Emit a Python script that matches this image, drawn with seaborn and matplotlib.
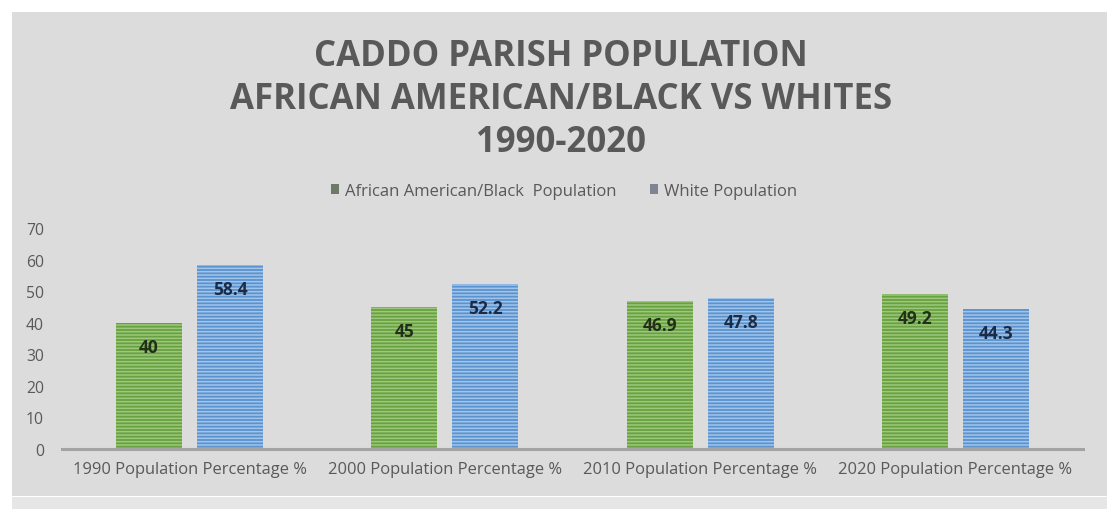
import matplotlib
matplotlib.use("Agg")
import matplotlib.pyplot as plt
from matplotlib.patches import Rectangle, Patch
import pandas as pd
import seaborn as sns

# ---- data -------------------------------------------------------------
categories = [
    "1990 Population Percentage %",
    "2000 Population Percentage %",
    "2010 Population Percentage %",
    "2020 Population Percentage %",
]
series_names = ["African American/Black  Population", "White Population"]
black_pct = [40, 45, 46.9, 49.2]
white_pct = [58.4, 52.2, 47.8, 44.3]
y_ticks = [0, 10, 20, 30, 40, 50, 60, 70]

title_lines = [
    "CADDO PARISH POPULATION",
    "AFRICAN AMERICAN/BLACK VS WHITES",
    "1990-2020",
]

df = pd.DataFrame({
    "category": categories * 2,
    "group": [series_names[0]] * len(categories) + [series_names[1]] * len(categories),
    "pct": black_pct + white_pct,
})

# ---- style ------------------------------------------------------------
sns.set_theme(style="white")
plt.rcParams["font.family"] = ["Open Sans", "DejaVu Sans"]
plt.rcParams["hatch.linewidth"] = 1.1

GREEN = "#68a240"
GREEN_STRIPE = "#9cc77c"
BLUE = "#5a93cf"
BLUE_STRIPE = "#a3c4ea"
TEXT = "#595959"
PANEL = "#dcdcdc"

W, H = 1107, 510
fig = plt.figure(figsize=(W / 100, H / 100), dpi=100, facecolor="white")

# chart panel behind everything
fig.patches.append(Rectangle((12 / W, 1 - 497 / H), 1 - 12 / W, (497 - 13) / H,
                             transform=fig.transFigure, facecolor=PANEL,
                             edgecolor="none", zorder=-10))
fig.patches.append(Rectangle((12 / W, 0), 1 - 12 / W, 1 - 498 / H,
                             transform=fig.transFigure, facecolor="#e6e6e6",
                             edgecolor="none", zorder=-10))

ax = fig.add_axes([62 / W, 1 - 450 / H, 1021 / W, (450 - 229) / H])
ax.set_facecolor("none")

sns.barplot(data=df, x="category", y="pct", hue="group", hue_order=series_names,
            palette=[GREEN, BLUE], width=0.635, gap=0.185, legend=False,
            saturation=1, ax=ax)

stripes = [GREEN_STRIPE, BLUE_STRIPE]
label_colors = ["#22301a", "#1c2b45"]
for cont, sc, lc in zip(ax.containers, stripes, label_colors):
    for bar in cont:
        bar.set_hatch("-----")
        bar.set_edgecolor(sc)
        bar.set_linewidth(0)
        h = bar.get_height()
        ax.annotate(f"{h:g}", xy=(bar.get_x() + bar.get_width() / 2, h),
                    xytext=(0, -24), textcoords="offset pixels",
                    ha="center", va="center", fontsize=12.5, fontweight="bold",
                    color=lc)

ax.set_ylim(0, 70)
ax.set_xlim(-0.5, 3.5)
ax.set_yticks(y_ticks)
ax.set_xlabel("")
ax.set_ylabel("")
ax.tick_params(axis="y", length=0, pad=13, labelsize=11.3, labelcolor=TEXT)
ax.tick_params(axis="x", length=0, pad=9, labelsize=11.9, labelcolor=TEXT)
for side in ["top", "right", "left"]:
    ax.spines[side].set_visible(False)
ax.spines["bottom"].set_color("#a3a3a3")
ax.spines["bottom"].set_linewidth(2.2)

# title
for line, ypx in zip(title_lines, [57, 100, 143]):
    fig.text(561 / W, 1 - ypx / H, line, ha="center", va="center",
             fontsize=25, fontweight="bold", color=TEXT)

# legend
handles = [Patch(facecolor="#6f7a66", edgecolor="none"),
           Patch(facecolor="#7d8590", edgecolor="none")]
fig.legend(handles, series_names, loc="center", bbox_to_anchor=(564 / W, 1 - 192 / H),
           ncol=2, frameon=False, fontsize=12, labelcolor=TEXT,
           handlelength=0.5, handleheight=0.5, handletextpad=0.35,
           columnspacing=2.0)

fig.savefig("out.png", dpi=100, facecolor="white")
